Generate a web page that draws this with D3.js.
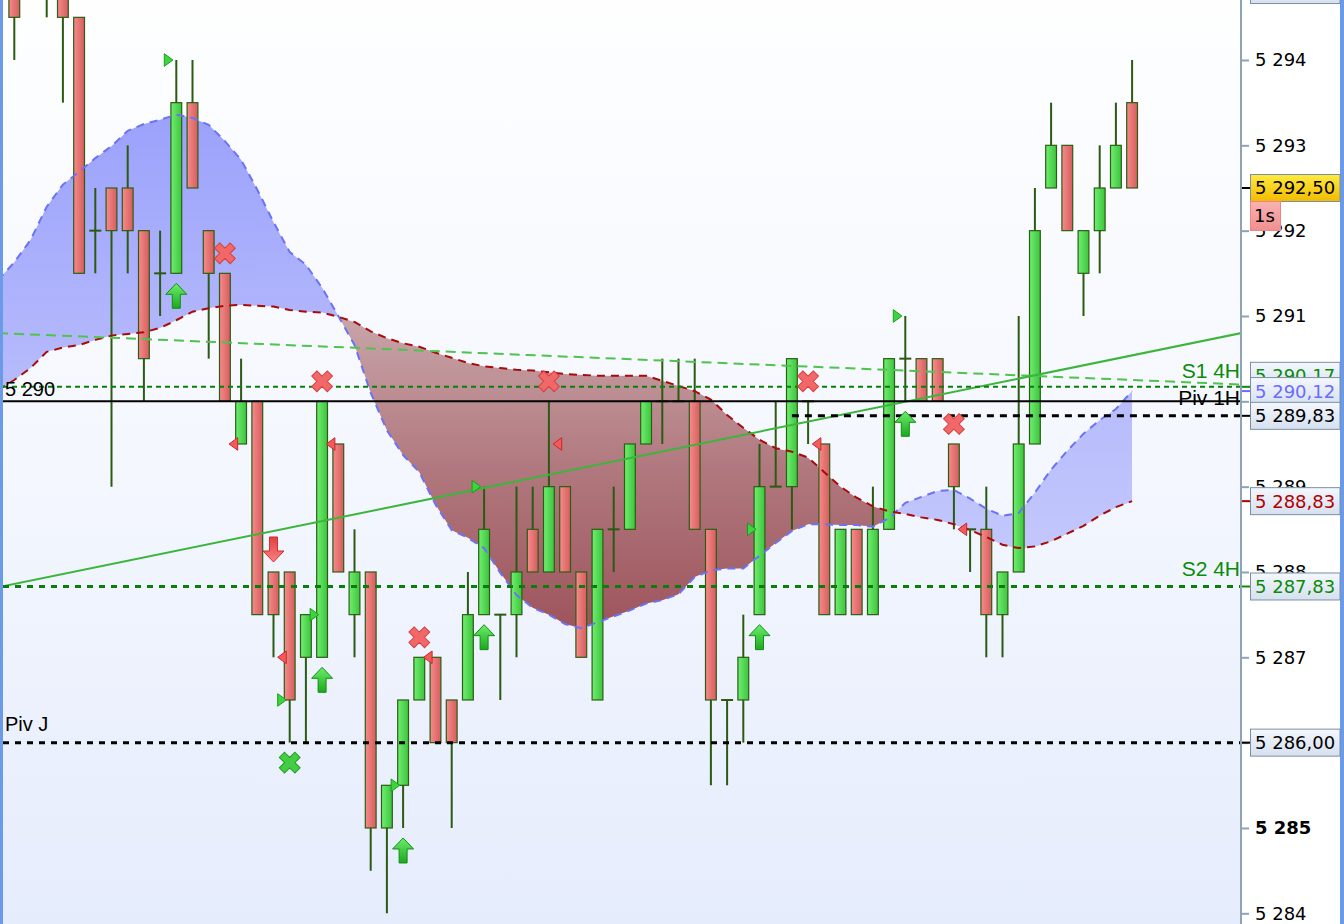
<!DOCTYPE html>
<html><head><meta charset="utf-8">
<script src="https://cdn.jsdelivr.net/npm/d3@7"></script>
<style>body{margin:0;overflow:hidden;background:#fff}svg{display:block}</style>
</head><body><svg id="c" width="1344" height="924"></svg>
<script>
// ---------------- DATA ----------------
const opens  = [5295,5295,5295.5,5295,5294.5,5292,5292.5,5292.5,5292,5291.5,5291.5,5293.5,5292,5291.5,5289.5,5290,5288,5288,5287,5287,5289.5,5287.5,5288,5285,5285.5,5286.5,5287,5286.5,5286.5,5287.5,5287.5,5287.5,5288.5,5288,5289,5288,5286.5,5288.5,5288.5,5289.5,5290,5290,5290,5288.5,5286.5,5286.5,5287.5,5289,5289,5290,5289.5,5287.5,5288.5,5287.5,5288.5,5290.5,5290.5,5290.5,5289.5,5288.5,5288.5,5287.5,5288,5289.5,5292.5,5293,5291.5,5292,5292.5,5293.5];
const highs  = [5295.5,5296,5296,5295.5,5294.5,5292.5,5292.5,5293,5292,5292,5294,5294,5292,5291.5,5290.5,5290,5288,5288,5287.5,5290,5289.5,5288.5,5288,5285.5,5286.5,5287,5287,5286.5,5288,5289,5287.5,5289,5289,5290,5289,5288,5288.5,5289,5289.5,5290,5290.5,5290.5,5290.5,5288.5,5286.5,5287.5,5289.5,5290,5290.5,5290,5289.5,5288.5,5288.5,5289,5290.5,5291,5290.5,5290.5,5289.5,5288.5,5289,5288,5291,5292.5,5293.5,5293,5292,5293,5293.5,5294];
const lows   = [5294,5295,5294.5,5293.5,5291.5,5291.5,5289,5291.5,5290,5291,5291.5,5292.5,5290.5,5290,5289.5,5287.5,5287,5286,5286,5287,5288,5287,5284.5,5284,5285,5286.5,5286,5285,5286.5,5287.5,5286.5,5287,5288,5288,5288,5287,5286.5,5288,5288.5,5289.5,5289.5,5290,5288.5,5285.5,5285.5,5286,5287.5,5289,5288.5,5289.5,5287.5,5287.5,5287.5,5287.5,5288.5,5290,5290,5290,5288.5,5288,5287,5287,5288,5289.5,5292.5,5292,5291,5291.5,5292.5,5292.5];
const closes = [5294.5,5295.5,5295,5294.5,5291.5,5292,5292,5292,5290.5,5291.5,5293.5,5292.5,5291.5,5290,5290,5287.5,5287.5,5286.5,5287.5,5290,5288,5288,5285,5285.5,5286.5,5287,5286,5286,5287.5,5288.5,5287.5,5288,5288,5289,5288,5287,5288.5,5288.5,5289.5,5290,5290,5290,5288.5,5286.5,5286.5,5287,5289,5289,5290.5,5290,5287.5,5288.5,5287.5,5288.5,5290.5,5290.5,5290,5290,5289,5288.5,5287.5,5288,5289.5,5292,5293,5292,5292,5292.5,5293,5292.5];

// cloud lines, bar index -1 .. 69
const blueLine = [5291.42,5291.63,5291.89,5292.28,5292.54,5292.69,5292.85,5292.99,5293.17,5293.25,5293.30,5293.36,5293.32,5293.24,5293.05,5292.83,5292.48,5292.10,5291.75,5291.60,5291.33,5291.00,5290.66,5290.10,5289.66,5289.37,5289.17,5288.79,5288.49,5288.40,5288.28,5287.99,5287.73,5287.58,5287.50,5287.39,5287.34,5287.41,5287.48,5287.55,5287.63,5287.67,5287.74,5287.94,5288.02,5288.04,5288.04,5288.19,5288.34,5288.48,5288.56,5288.56,5288.55,5288.55,5288.53,5288.63,5288.81,5288.88,5288.95,5288.96,5288.86,5288.74,5288.66,5288.69,5288.93,5289.20,5289.42,5289.62,5289.78,5289.91,5290.12];
const redLine  = [5290.13,5290.25,5290.39,5290.58,5290.63,5290.66,5290.72,5290.77,5290.79,5290.81,5290.86,5290.95,5291.05,5291.09,5291.12,5291.13,5291.12,5291.11,5291.07,5291.05,5291.04,5290.99,5290.93,5290.82,5290.74,5290.68,5290.64,5290.57,5290.51,5290.45,5290.41,5290.39,5290.37,5290.36,5290.34,5290.32,5290.31,5290.30,5290.30,5290.30,5290.30,5290.24,5290.18,5290.12,5290.02,5289.84,5289.69,5289.55,5289.45,5289.41,5289.34,5289.17,5289.00,5288.87,5288.77,5288.71,5288.68,5288.64,5288.61,5288.56,5288.49,5288.41,5288.32,5288.28,5288.30,5288.36,5288.45,5288.54,5288.66,5288.76,5288.83];

// trend lines: [bar index, price]
const trendSolid  = [[-1, 5287.82], [76, 5290.81]];
const trendDashed = [[-1, 5290.80], [76, 5290.195]];

// horizontal levels
const levelNames  = ["S1 4H", "Piv 1H", "", "S2 4H", "Piv J"];
const levelValues = [5290.17, 5290.00, 5289.83, 5287.83, 5286.00];
const levelFrom   = [-1, -1, 48, -1, -1];

// signal markers
const greenFlags = [[10,5294],[17,5286.5],[19,5287.5],[24,5285.5],[29,5289],[46,5288.5],[55,5291]];
const redFlags   = [[14,5289.5],[17,5287],[20,5289.5],[26,5287],[34,5289.5],[50,5289.5],[59,5288.5]];
const redCrosses = [13,19,25,33,49,58];
const greenCrosses = [17];
const upArrows   = [10,19,24,29,46,55];
const downArrows = [16];

// axis
const yTicks = [5284,5285,5286,5287,5288,5289,5290,5291,5292,5293,5294];
const axisLabels = [5294.82, 5290.17, 5290.12, 5289.83, 5288.83, 5287.83, 5286.00];
const lastPrice = 5292.50;
const timerText = "1s";

// ---------------- LAYOUT / STYLE ----------------
const W = 1344, H = 924, plotL = 3, plotR = 1241;
const x = d3.scaleLinear().domain([0, 69]).range([14.3, 1132.1]);
const y = d3.scaleLinear().domain([5284, 5294]).range([913.3, 60]);
const loc = d3.formatLocale({decimal: ",", thousands: " ", grouping: [3], currency: ["", ""]});
const fmt0 = loc.format(",.0f"), fmt2 = loc.format(",.2f");

const levelStyle = {
  "S1 4H": {stroke:"#0b7d0b", w:2, dash:"5,4", text:"#0b8a0b"},
  "Piv 1H": {stroke:"#000", w:2, dash:null, text:"#000"},
  "": {stroke:"#000", w:3, dash:"7,6", text:"#000"},
  "S2 4H": {stroke:"#0b7d0b", w:3, dash:"6,6", text:"#0b8a0b"},
  "Piv J": {stroke:"#000", w:3, dash:"6,6", text:"#000"}
};
const axisLabelColor = {5294.82:"#000", 5290.17:"#0b8a0b", 5290.12:"#6b6bff", 5289.83:"#000", 5288.83:"#b00000", 5287.83:"#0b8a0b", 5286:"#000"};
const axisLabelNudge = {5290.17: -11};

const svg = d3.select("#c");
const defs = svg.append("defs");
function lin(id, stops, x1, y1, x2, y2, user) {
  const g = defs.append("linearGradient").attr("id", id)
    .attr("x1", x1).attr("y1", y1).attr("x2", x2).attr("y2", y2);
  if (user) g.attr("gradientUnits", "userSpaceOnUse");
  stops.forEach((c, i) => g.append("stop").attr("offset", i / (stops.length - 1)).attr("stop-color", c));
}
lin("bg", ["#fdfeff", "#f4f7fe", "#e5ecfc"], 0, 0, 0, H, true);
lin("redBody", ["#f68b8b", "#d65d5d"], 0, 0, 1, 0);
lin("greenBody", ["#70ee70", "#3dc43d"], 0, 0, 1, 0);
lin("blueFill", ["#9aa0fb", "#b4b9fc", "#c8ccfd"], 0, 100, 0, 620, true);
lin("brownFill", ["#c9a6aa", "#b0787e", "#9e545c"], 0, 310, 0, 630, true);
lin("boxGrad", ["#f4f7fd", "#d6e0ef"], 0, 0, 0, 1);
lin("yellowGrad", ["#ffea40", "#f2bb00"], 0, 0, 0, 1);
lin("pinkGrad", ["#f9b2b2", "#f08f8f"], 0, 0, 0, 1);
lin("upGrad", ["#6aee6a", "#1ea81e"], 0, 0, 0, 1);
lin("downGrad", ["#fb8080", "#e04242"], 0, 0, 0, 1);
defs.append("clipPath").attr("id", "plotClip").append("rect")
  .attr("x", plotL).attr("y", 0).attr("width", plotR - plotL).attr("height", H);

const idxAll = d3.range(-1, 70);
const bv = i => y(blueLine[i + 1]), rv = i => y(redLine[i + 1]);
defs.append("clipPath").attr("id", "aboveRed").append("path")
  .attr("d", d3.area().x(i => x(i)).y0(0).y1(rv)(idxAll));
defs.append("clipPath").attr("id", "belowRed").append("path")
  .attr("d", d3.area().x(i => x(i)).y0(rv).y1(H)(idxAll));

// backgrounds
svg.append("rect").attr("width", W).attr("height", H).attr("fill", "#fff");
svg.append("rect").attr("x", plotL).attr("width", plotR - plotL).attr("height", H).attr("fill", "url(#bg)");
svg.append("rect").attr("x", plotL).attr("width", plotR - plotL).attr("height", 49).attr("fill", "#fff").attr("opacity", 0.35);
svg.append("rect").attr("x", 0).attr("width", plotL).attr("height", H).attr("fill", "#6b9be8");
svg.append("rect").attr("x", 1340).attr("width", 4).attr("height", H).attr("fill", "#6b9be8");

const plot = svg.append("g").attr("clip-path", "url(#plotClip)");

// cloud fills
const band = d3.area().x(i => x(i)).y0(rv).y1(bv);
plot.append("g").attr("clip-path", "url(#aboveRed)")
  .append("path").attr("d", band(idxAll)).attr("fill", "url(#blueFill)");
plot.append("g").attr("clip-path", "url(#belowRed)")
  .append("path").attr("d", band(idxAll)).attr("fill", "url(#brownFill)");

// candles
const idx = d3.range(opens.length);
const cg = plot.append("g");
const wickC = "#2b5a12";
idx.forEach(i => {
  const cx = x(i), o = opens[i], c = closes[i], h = highs[i], l = lows[i];
  if (h > l) cg.append("line").attr("x1", cx).attr("x2", cx).attr("y1", y(h)).attr("y2", y(l))
    .attr("stroke", wickC).attr("stroke-width", 2);
  if (o === c) {
    cg.append("line").attr("x1", cx - 6).attr("x2", cx + 6).attr("y1", y(o)).attr("y2", y(o))
      .attr("stroke", wickC).attr("stroke-width", 2);
  } else {
    cg.append("rect").attr("x", cx - 5.4).attr("width", 10.8)
      .attr("y", y(Math.max(o, c))).attr("height", Math.abs(y(o) - y(c)))
      .attr("fill", c > o ? "url(#greenBody)" : "url(#redBody)")
      .attr("stroke", "#2b5e14").attr("stroke-width", 1.2);
  }
});

// cloud lines
const lineGen = f => d3.line().x(i => x(i)).y(f);
plot.append("path").attr("d", lineGen(bv)(idxAll)).attr("fill", "none")
  .attr("stroke", "#6c72f4").attr("stroke-width", 2).attr("stroke-dasharray", "8,6");
plot.append("path").attr("d", lineGen(rv)(idxAll)).attr("fill", "none")
  .attr("stroke", "#a80a0a").attr("stroke-width", 2).attr("stroke-dasharray", "8,6");

// trend lines
const tl = d3.line().x(d => x(d[0])).y(d => y(d[1]));
plot.append("path").attr("d", tl(trendDashed)).attr("fill", "none")
  .attr("stroke", "#4fc24f").attr("stroke-width", 2).attr("stroke-dasharray", "10,6");
plot.append("path").attr("d", tl(trendSolid)).attr("fill", "none")
  .attr("stroke", "#3cb53c").attr("stroke-width", 2);

// horizontal levels
levelValues.forEach((v, k) => {
  const st = levelStyle[levelNames[k]];
  const x0 = levelFrom[k] < 0 ? plotL : x(levelFrom[k]);
  const ln = plot.append("line").attr("x1", x0).attr("x2", plotR).attr("y1", y(v)).attr("y2", y(v))
    .attr("stroke", st.stroke).attr("stroke-width", st.w);
  if (st.dash) ln.attr("stroke-dasharray", st.dash);
});

// markers
const mk = plot.append("g");
greenFlags.forEach(([i, p]) => {
  const x0 = x(i) - 12, yy = y(p);
  mk.append("path").attr("d", `M${x0},${yy - 6.3}L${x0 + 8.6},${yy}L${x0},${yy + 6.3}Z`)
    .attr("fill", "#3fd33f").attr("stroke", "#17a017").attr("stroke-width", 1);
});
redFlags.forEach(([i, p]) => {
  const x0 = x(i) - 12, yy = y(p);
  mk.append("path").attr("d", `M${x0},${yy}L${x0 + 8.6},${yy - 6.3}L${x0 + 8.6},${yy + 6.3}Z`)
    .attr("fill", "#f45a5a").attr("stroke", "#c82828").attr("stroke-width", 1);
});
const crossD = d3.symbol().type(d3.symbolCross).size(270)();
redCrosses.forEach(i => {
  mk.append("path").attr("d", crossD)
    .attr("transform", `translate(${x(i)},${y(highs[i]) - 20}) rotate(45)`)
    .attr("fill", "#f26868").attr("stroke", "#d54040").attr("stroke-width", 1);
});
greenCrosses.forEach(i => {
  mk.append("path").attr("d", crossD)
    .attr("transform", `translate(${x(i)},${y(lows[i]) + 20}) rotate(45)`)
    .attr("fill", "#45cc45").attr("stroke", "#1e9e1e").attr("stroke-width", 1);
});
const arrowD = "M0,0L10.5,11L4,11L4,25L-4,25L-4,11L-10.5,11Z";
upArrows.forEach(i => {
  mk.append("path").attr("d", arrowD)
    .attr("transform", `translate(${x(i)},${y(lows[i]) + 10})`)
    .attr("fill", "url(#upGrad)").attr("stroke", "#139013").attr("stroke-width", 1);
});
downArrows.forEach(i => {
  mk.append("path").attr("d", arrowD)
    .attr("transform", `translate(${x(i)},${y(highs[i]) - 10}) scale(1,-1)`)
    .attr("fill", "url(#downGrad)").attr("stroke", "#d03030").attr("stroke-width", 1);
});

// level texts
const txt = svg.append("g").attr("font-family", "Liberation Sans, Arial, sans-serif");
txt.append("text").attr("x", 5).attr("y", y(levelValues[1]) - 5).attr("font-size", 20)
  .attr("fill", "#000").text(fmt0(levelValues[1]));
txt.append("text").attr("x", 5).attr("y", y(levelValues[4]) - 12).attr("font-size", 20)
  .attr("fill", "#000").text(levelNames[4]);
[[0, -9], [1, 4], [3, -10]].forEach(([k, dy]) => {
  txt.append("text").attr("x", plotR - 1).attr("y", y(levelValues[k]) + dy)
    .attr("text-anchor", "end").attr("font-size", 21)
    .attr("fill", levelStyle[levelNames[k]].text).text(levelNames[k]);
});

// axis
svg.append("line").attr("x1", plotR).attr("x2", plotR).attr("y1", 0).attr("y2", H)
  .attr("stroke", "#8fa3b3").attr("stroke-width", 2);
const ax = svg.append("g").attr("transform", `translate(${plotR},0)`)
  .call(d3.axisRight(y).tickValues(yTicks).tickFormat(fmt0).tickSize(8).tickPadding(6));
ax.select(".domain").remove();
ax.selectAll(".tick line").attr("stroke", "#8fa3b3").attr("stroke-width", 2);
ax.selectAll(".tick text").attr("font-family", "DejaVu Sans, sans-serif").attr("font-size", 18)
  .attr("fill", "#000").attr("font-weight", d => d === 5285 ? "bold" : "normal");

// axis value boxes
const bx = svg.append("g").attr("font-family", "DejaVu Sans, sans-serif").attr("font-size", 18);
function valueBox(v, color, fill) {
  const cy = y(v) + (axisLabelNudge[v] || 0);
  bx.append("line").attr("x1", plotR + 1).attr("x2", plotR + 9).attr("y1", y(v)).attr("y2", y(v))
    .attr("stroke", color).attr("stroke-width", 2);
  bx.append("rect").attr("x", 1250.5).attr("y", cy - 13.5).attr("width", 89.5).attr("height", 27)
    .attr("fill", fill).attr("stroke", "#7a90a2").attr("stroke-width", 1);
  bx.append("text").attr("x", 1255).attr("y", cy).attr("dy", "0.36em").attr("fill", color).text(fmt2(v));
  return cy;
}
axisLabels.forEach(v => valueBox(v, axisLabelColor[v], "url(#boxGrad)"));
const lc = valueBox(lastPrice, "#000", "url(#yellowGrad)");
bx.append("rect").attr("x", 1250.5).attr("y", lc + 13.5).attr("width", 30).attr("height", 29)
  .attr("fill", "url(#pinkGrad)").attr("stroke", "#f08484").attr("stroke-width", 1);
bx.append("text").attr("x", 1254).attr("y", lc + 28).attr("dy", "0.36em").attr("fill", "#000").text(timerText);
</script>
</body></html>
